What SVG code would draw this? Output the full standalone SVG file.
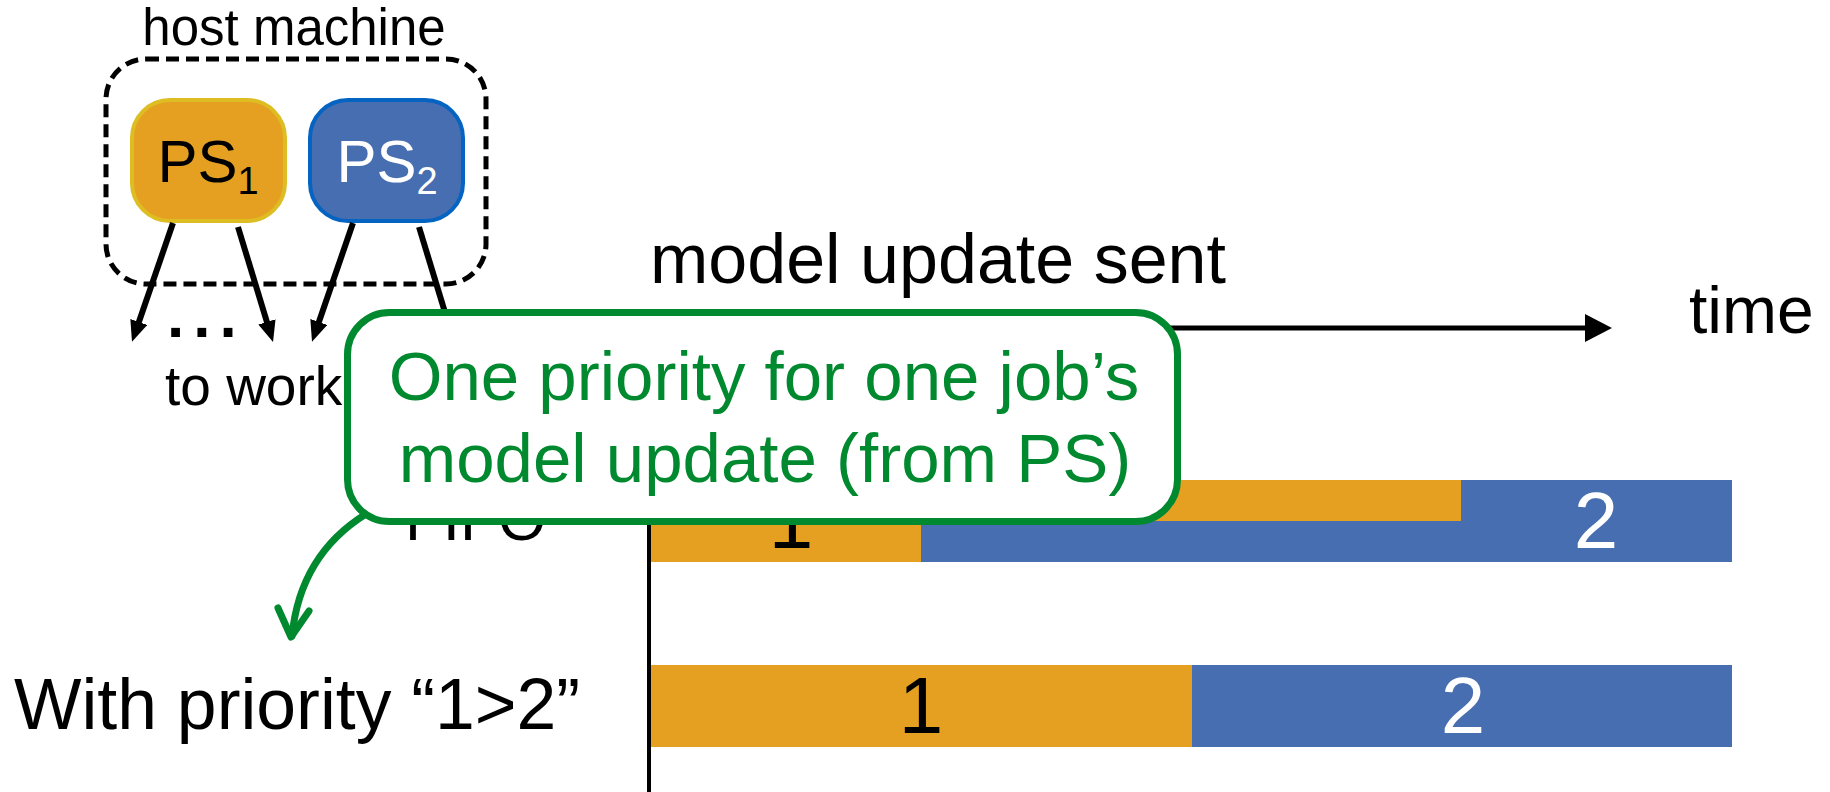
<svg xmlns="http://www.w3.org/2000/svg" width="1830" height="792" viewBox="0 0 1830 792">
  <style>
    text { font-family: "Liberation Sans", Arial, Helvetica, sans-serif; }
    .lbl { fill: #000; }
    .ps { font-size: 60px; }
    .sub { font-size: 38px; }
    .bar-o { fill: #E5A022; }
    .bar-b { fill: #476EB1; }
    .num { font-size: 80px; text-anchor: middle; }
    .feed { stroke: #000; stroke-width: 6; fill: none; }
    .green { stroke: #00892E; fill: none; }
  </style>
  <defs>
    <marker id="headBlack" markerUnits="userSpaceOnUse" markerWidth="22" markerHeight="18" refX="2" refY="9" orient="auto">
      <path d="M0,0 L21,9 L0,18 z" fill="#000"/>
    </marker>
    <marker id="headAxis" markerUnits="userSpaceOnUse" markerWidth="28" markerHeight="28" refX="2" refY="14" orient="auto">
      <path d="M0,0 L27,14 L0,28 z" fill="#000"/>
    </marker>
  </defs>

  <rect width="1830" height="792" fill="#fff"/>

  <!-- host machine with its two parameter servers -->
  <g id="host-machine">
    <text class="lbl" x="294" y="45" font-size="51" text-anchor="middle">host machine</text>
    <rect x="106" y="59" width="380" height="225" rx="40" fill="none" stroke="#000" stroke-width="5" stroke-dasharray="13 7"/>
  </g>
  <g id="ps1">
    <rect x="132" y="100" width="153" height="121" rx="38" fill="#E5A022" stroke="#DDBD22" stroke-width="4"/>
    <text x="208" y="182" text-anchor="middle" fill="#000"><tspan class="ps">PS</tspan><tspan class="sub" dy="12">1</tspan></text>
  </g>
  <g id="ps2">
    <rect x="310" y="100" width="153" height="121" rx="38" fill="#476EB1" stroke="#0563C1" stroke-width="4"/>
    <text x="387" y="182" text-anchor="middle" fill="#fff"><tspan class="ps">PS</tspan><tspan class="sub" dy="12">2</tspan></text>
  </g>

  <!-- updates fan out to the workers -->
  <g id="connectors">
    <line class="feed" x1="173" y1="223" x2="138.2" y2="323.9" marker-end="url(#headBlack)"/>
    <line class="feed" x1="238" y1="227" x2="267.5" y2="323.8" marker-end="url(#headBlack)"/>
    <line class="feed" x1="353" y1="223" x2="318.2" y2="323.9" marker-end="url(#headBlack)"/>
    <line class="feed" x1="419" y1="227" x2="448.5" y2="323.8" marker-end="url(#headBlack)"/>
    <!-- time axes -->
    <line x1="649" y1="328" x2="1587" y2="328" stroke="#000" stroke-width="5" marker-end="url(#headAxis)"/>
    <line x1="649" y1="328" x2="649" y2="792" stroke="#000" stroke-width="4"/>
    <!-- pointer from the note down to the priority row -->
    <path class="green" d="M366,514 Q300,555 292,636" stroke-width="7" stroke-linecap="round"/>
    <polyline class="green" points="278,608 291,637 309,611" stroke-width="7" stroke-linecap="round" stroke-linejoin="round"/>
  </g>

  <g id="workers-label">
    <text class="lbl" x="167" y="337" font-size="62" font-weight="bold" letter-spacing="9">...</text>
    <text class="lbl" x="165" y="405" font-size="55">to work</text>
  </g>

  <g id="axis-labels">
    <text class="lbl" x="650" y="283" font-size="70">model update sent</text>
    <text class="lbl" x="1689" y="333" font-size="66">time</text>
    <text class="lbl" x="405" y="540" font-size="62">FIFO</text>
    <text class="lbl" x="14" y="729" font-size="71.5">With priority “1&gt;2”</text>
  </g>

  <!-- FIFO schedule: both updates interleave -->
  <g id="fifo-row">
    <rect class="bar-o" x="651" y="480" width="810" height="41"/>
    <rect class="bar-b" x="1461" y="480" width="271" height="41"/>
    <rect class="bar-o" x="651" y="521" width="270" height="41"/>
    <rect class="bar-b" x="921" y="521" width="811" height="41"/>
    <text class="num" x="791" y="548" fill="#000">1</text>
    <text class="num" x="1596" y="548" fill="#fff">2</text>
  </g>

  <!-- priority schedule: update 1 first, then update 2 -->
  <g id="priority-row">
    <rect class="bar-o" x="651" y="665" width="541" height="82"/>
    <rect class="bar-b" x="1192" y="665" width="540" height="82"/>
    <text class="num" x="921" y="733" fill="#000">1</text>
    <text class="num" x="1463" y="733" fill="#fff">2</text>
  </g>

  <!-- note -->
  <g id="callout">
    <rect x="347.5" y="312.5" width="830" height="209" rx="42" fill="#fff" stroke="#00892E" stroke-width="7"/>
    <text x="764" y="400" font-size="69" text-anchor="middle" fill="#00892E">One priority for one job’s</text>
    <text x="765" y="482" font-size="69" text-anchor="middle" fill="#00892E">model update (from PS)</text>
  </g>
</svg>
